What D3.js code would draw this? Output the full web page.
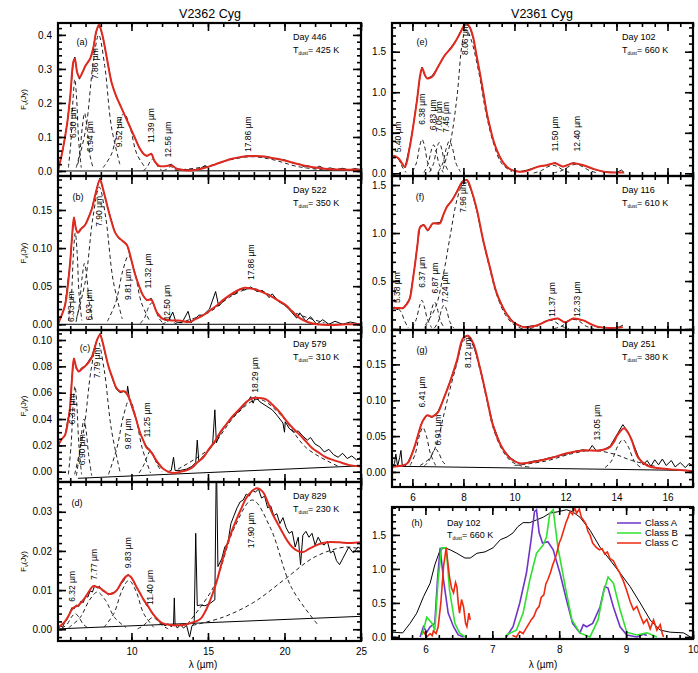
<!DOCTYPE html>
<html><head><meta charset="utf-8">
<script src="https://cdn.jsdelivr.net/npm/d3@7"></script>
<style>
body{margin:0;background:#fff}
text{font-family:"Liberation Sans",Arial,sans-serif;fill:#000}
</style>
</head><body><script>
// ---- data: [wavelength (um), flux (Jy)] ----
const fitA = [[5.2,0],[5.5,0.06],[5.8,0.14],[6.0,0.22],[6.2,0.32],[6.3,0.33],[6.45,0.29],[6.6,0.275],[6.8,0.29],[7.0,0.31],[7.3,0.33],[7.5,0.36],[7.7,0.41],[7.88,0.43],[8.1,0.40],[8.4,0.33],[8.7,0.26],[9.0,0.22],[9.3,0.19],[9.6,0.16],[9.9,0.13],[10.2,0.10],[10.5,0.07],[10.8,0.05],[11.0,0.045],[11.3,0.05],[11.5,0.03],[11.8,0.015],[12.2,0.014],[12.6,0.016],[13.0,0.006],[13.5,0.002],[14.0,0.002],[14.5,0.006],[15.0,0.012],[15.5,0.02],[16.0,0.028],[16.5,0.035],[17.0,0.04],[17.5,0.043],[18.0,0.044],[18.5,0.043],[19.0,0.04],[19.5,0.036],[20.0,0.031],[20.5,0.025],[21.0,0.019],[21.5,0.014],[22.0,0.01],[22.5,0.007],[23.0,0.005],[24.0,0.004],[25.0,0.004]];
const obsA = [[5.2,0.0],[5.5,0.058],[5.8,0.14],[6.0,0.22],[6.2,0.32],[6.3,0.335],[6.45,0.29],[6.6,0.27],[6.8,0.29],[7.0,0.31],[7.3,0.33],[7.5,0.36],[7.7,0.41],[7.88,0.43],[8.1,0.40],[8.4,0.33],[8.7,0.26],[9.0,0.22],[9.3,0.19],[9.6,0.16],[9.9,0.13],[10.2,0.10],[10.5,0.07],[10.8,0.05],[11.0,0.043],[11.3,0.052],[11.5,0.03],[11.8,0.014],[12.2,0.013],[12.6,0.02],[12.8,0.012],[13.0,0.006],[13.5,0.004],[14.0,0.003],[14.5,0.007],[14.8,0.016],[15.0,0.011],[15.5,0.02],[16.0,0.027],[16.5,0.036],[17.0,0.039],[17.5,0.044],[18.0,0.045],[18.5,0.042],[19.0,0.041],[19.5,0.035],[20.0,0.033],[20.5,0.024],[21.0,0.02],[21.3,0.012],[21.5,0.016],[22.0,0.008],[22.3,0.014],[22.6,0.006],[23.0,0.009],[23.4,0.004],[23.8,0.008],[24.2,0.003],[24.6,0.007],[25.0,0.004]];
const compA = [
  [[5.88,0.01],[6.05,0.09],[6.18,0.21],[6.30,0.27],[6.42,0.21],[6.55,0.09],[6.72,0.01]],
  [[6.39,0.01],[6.61,0.05],[6.79,0.13],[6.94,0.17],[7.09,0.13],[7.27,0.05],[7.49,0.01]],
  [[6.49,0.02],[7.04,0.13],[7.48,0.31],[7.86,0.40],[8.25,0.31],[8.69,0.13],[9.24,0.02]],
  [[8.15,0.01],[8.70,0.05],[9.14,0.13],[9.52,0.17],[9.9,0.13],[10.35,0.05],[10.9,0.01]],
  [[10.77,0.001],[11.02,0.011],[11.21,0.027],[11.39,0.035],[11.57,0.027],[11.76,0.011],[12.0,0.001]],
  [[12.06,0.0005],[12.26,0.004],[12.42,0.01],[12.56,0.013],[12.7,0.01],[12.86,0.004],[13.06,0.0005]],
  [[12.86,0.002],[14.86,0.013],[16.46,0.033],[17.86,0.042],[19.26,0.033],[20.86,0.013],[22.86,0.002]]
];
const contA = [[5.2,0.0],[25,0.001]];
const tagsA = [["6.30 µm",6.18,0.097],["6.94 µm",7.29,0.056],["7.86 µm",7.6,0.27],["9.52 µm",9.18,0.07],["11.39 µm",11.27,0.082],["12.56 µm",12.38,0.04],["17.86 µm",17.6,0.056]];

const fitB = [[5.2,0],[5.4,0.01],[5.66,0.025],[5.98,0.078],[6.1,0.11],[6.24,0.14],[6.38,0.125],[6.5,0.12],[6.7,0.125],[6.96,0.13],[7.2,0.14],[7.42,0.152],[7.7,0.175],[7.94,0.19],[8.15,0.177],[8.4,0.157],[8.65,0.138],[8.92,0.121],[9.15,0.114],[9.38,0.11],[9.7,0.104],[9.95,0.088],[10.2,0.068],[10.5,0.05],[10.75,0.038],[11.0,0.032],[11.3,0.032],[11.65,0.016],[12.05,0.007],[12.6,0.005],[13.1,0.005],[13.8,0.003],[14.2,0.007],[14.7,0.012],[15.2,0.019],[15.6,0.025],[16.0,0.032],[16.4,0.038],[16.9,0.044],[17.4,0.048],[17.8,0.047],[18.2,0.045],[18.7,0.041],[19.2,0.036],[19.6,0.031],[20.1,0.025],[20.5,0.017],[21.0,0.008],[21.5,0.003],[22.1,0.0],[23.1,-0.001],[24,0.0],[25,0.0]];
const obsB = [[5.2,0],[5.5,0.015],[5.66,0.025],[5.98,0.078],[6.1,0.11],[6.24,0.14],[6.38,0.124],[6.5,0.12],[6.7,0.126],[6.96,0.13],[7.2,0.141],[7.42,0.152],[7.7,0.176],[7.94,0.192],[8.15,0.176],[8.4,0.157],[8.65,0.139],[8.92,0.121],[9.15,0.113],[9.38,0.11],[9.7,0.105],[9.95,0.087],[10.2,0.068],[10.5,0.05],[10.75,0.038],[11.0,0.031],[11.3,0.034],[11.65,0.016],[12.05,0.007],[12.4,0.004],[12.7,0.016],[12.9,0.003],[13.3,0.002],[13.7,0.017],[13.9,0.002],[14.4,0.012],[14.7,0.012],[15.1,0.02],[15.5,0.043],[15.7,0.024],[16.0,0.03],[16.4,0.038],[16.8,0.04],[17.1,0.047],[17.4,0.045],[17.8,0.049],[18.2,0.043],[18.6,0.044],[19.0,0.035],[19.2,0.04],[19.6,0.03],[20.1,0.024],[20.5,0.015],[20.8,0.008],[21.0,0.015],[21.4,0.004],[21.7,0.01],[22.1,0.0],[22.5,0.006],[22.9,0.0],[23.3,0.004],[23.8,0.0],[24.3,0.003],[25,0.0]];
const compB = [
  [[5.9,0.005],[6.08,0.038],[6.21,0.094],[6.33,0.12],[6.45,0.094],[6.58,0.038],[6.76,0.005]],
  [[6.38,0.003],[6.6,0.026],[6.78,0.062],[6.93,0.08],[7.08,0.062],[7.26,0.026],[7.48,0.003]],
  [[6.4,0.007],[7.0,0.058],[7.48,0.14],[7.90,0.18],[8.32,0.14],[8.8,0.058],[9.4,0.007]],
  [[8.43,0.004],[8.98,0.029],[9.43,0.07],[9.81,0.09],[10.2,0.07],[10.64,0.029],[11.2,0.004]],
  [[10.57,0.001],[10.87,0.009],[11.11,0.022],[11.32,0.028],[11.53,0.022],[11.77,0.009],[12.07,0.001]],
  [[12.0,0],[12.2,0.002],[12.36,0.0047],[12.5,0.006],[12.64,0.0047],[12.8,0.002],[13.0,0]],
  [[13.11,0.002],[15.01,0.015],[16.53,0.037],[17.86,0.047],[19.19,0.037],[20.71,0.015],[22.61,0.002]]
];
const contB = [[5.2,0.0],[25,0.0]];
const tagsB = [["6.33 µm",6.04,0.003],["6.93 µm",7.2,0.005],["7.90 µm",7.85,0.128],["9.81 µm",9.8,0.032],["11.32 µm",11.1,0.047],["12.50 µm",12.3,0.005],["17.86 µm",17.8,0.058]];

const fitC = [[5.2,0.02],[5.4,0.024],[5.66,0.028],[5.85,0.038],[5.98,0.048],[6.1,0.068],[6.24,0.086],[6.4,0.079],[6.57,0.076],[6.75,0.078],[6.96,0.08],[7.2,0.083],[7.42,0.087],[7.6,0.094],[7.75,0.10],[7.95,0.104],[8.1,0.099],[8.27,0.091],[8.5,0.08],[8.8,0.07],[9.0,0.064],[9.25,0.061],[9.57,0.061],[9.8,0.057],[10.0,0.051],[10.3,0.04],[10.55,0.03],[10.8,0.023],[11.0,0.018],[11.2,0.016],[11.4,0.013],[11.6,0.009],[11.86,0.005],[12.1,0.002],[12.4,0.0],[12.8,-0.001],[13.2,0.0],[13.6,0.001],[13.95,0.003],[14.3,0.007],[14.7,0.011],[15.05,0.017],[15.45,0.023],[15.8,0.03],[16.2,0.036],[16.6,0.042],[17.1,0.048],[17.5,0.053],[17.95,0.056],[18.3,0.056],[18.8,0.055],[19.2,0.051],[19.7,0.045],[20.1,0.039],[20.55,0.033],[21.0,0.028],[21.4,0.023],[21.8,0.018],[22.3,0.014],[22.7,0.011],[23.15,0.009],[23.7,0.007],[24.25,0.005],[25,0.004]];
const obsC = [[5.2,0.018],[5.4,0.025],[5.66,0.027],[5.85,0.04],[5.98,0.047],[6.1,0.07],[6.24,0.086],[6.4,0.078],[6.57,0.076],[6.75,0.079],[6.96,0.08],[7.2,0.084],[7.42,0.088],[7.6,0.095],[7.75,0.10],[7.95,0.105],[8.1,0.099],[8.27,0.09],[8.5,0.08],[8.8,0.069],[9.0,0.063],[9.25,0.06],[9.5,0.061],[9.7,0.059],[9.75,0.065],[9.85,0.057],[10.0,0.05],[10.3,0.04],[10.55,0.03],[10.8,0.023],[11.0,0.019],[11.2,0.017],[11.4,0.013],[11.6,0.008],[11.86,0.004],[12.1,0.002],[12.4,0.0],[12.6,0.001],[12.75,0.011],[12.85,0.001],[13.2,0.001],[13.6,0.002],[13.95,0.004],[14.2,0.007],[14.3,0.024],[14.4,0.008],[14.7,0.012],[15.05,0.016],[15.3,0.02],[15.45,0.047],[15.55,0.022],[15.8,0.029],[16.2,0.036],[16.6,0.041],[17.1,0.047],[17.5,0.052],[17.8,0.057],[17.95,0.052],[18.1,0.057],[18.4,0.053],[18.8,0.05],[19.2,0.047],[19.5,0.043],[19.7,0.04],[19.9,0.037],[20.0,0.03],[20.05,0.038],[20.3,0.033],[20.6,0.03],[20.9,0.031],[21.2,0.027],[21.5,0.024],[21.7,0.026],[22.0,0.021],[22.3,0.019],[22.6,0.015],[22.9,0.017],[23.2,0.013],[23.5,0.011],[23.8,0.014],[24.1,0.01],[24.4,0.012],[24.7,0.009],[25,0.011]];
const compC = [
  [[5.88,-0.002],[6.06,0.021],[6.19,0.051],[6.31,0.065],[6.43,0.051],[6.56,0.021],[6.74,-0.002]],
  [[6.4,-0.003],[6.6,0.013],[6.76,0.031],[6.90,0.04],[7.04,0.031],[7.2,0.013],[7.4,-0.003]],
  [[6.29,-0.002],[6.89,0.032],[7.37,0.078],[7.79,0.10],[8.21,0.078],[8.69,0.032],[9.29,-0.002]],
  [[8.5,-0.002],[9.05,0.018],[9.49,0.043],[9.87,0.055],[10.25,0.043],[10.7,0.018],[11.25,-0.001]],
  [[10.5,-0.001],[10.8,0.005],[11.04,0.012],[11.25,0.016],[11.46,0.012],[11.7,0.005],[12.0,0.0]],
  [[13.04,0.002],[15.14,0.018],[16.82,0.043],[18.29,0.055],[19.76,0.043],[21.44,0.018],[23.54,0.004]]
];
const contC = [[6.5,-0.005],[25,0.0045]];
const tagsC = [["6.31 µm",6.1,0.036],["6.90 µm",6.76,0.005],["7.79 µm",7.75,0.071],["9.87 µm",9.77,0.017],["11.25 µm",11.0,0.026],["18.29 µm",18.1,0.06]];

const fitD = [[5.2,0.0003],[5.45,0.0012],[5.66,0.002],[5.9,0.0035],[6.1,0.005],[6.3,0.0057],[6.5,0.006],[6.75,0.007],[6.96,0.008],[7.2,0.0095],[7.5,0.011],[7.75,0.0108],[7.95,0.0105],[8.2,0.0098],[8.5,0.009],[8.8,0.0092],[9.05,0.010],[9.25,0.0113],[9.45,0.0126],[9.65,0.0135],[9.78,0.0138],[9.95,0.0134],[10.1,0.0126],[10.3,0.011],[10.55,0.0093],[10.8,0.0075],[11.1,0.0058],[11.3,0.0045],[11.55,0.0032],[11.8,0.0022],[12.05,0.0015],[12.5,0.0011],[12.95,0.001],[13.4,0.0011],[13.8,0.0015],[14.2,0.002],[14.5,0.0026],[14.75,0.004],[15.0,0.006],[15.3,0.009],[15.6,0.0126],[15.9,0.017],[16.2,0.021],[16.55,0.025],[16.9,0.0284],[17.2,0.031],[17.5,0.0335],[17.85,0.0352],[18.2,0.036],[18.6,0.035],[18.9,0.0325],[19.2,0.0296],[19.55,0.027],[19.9,0.0245],[20.2,0.0225],[20.5,0.021],[20.85,0.0200],[21.2,0.0197],[21.6,0.0205],[22.1,0.0215],[22.5,0.022],[22.95,0.0223],[23.6,0.0222],[24.25,0.022],[25,0.0222]];
const obsD = [[5.2,0.0],[5.35,0.001],[5.5,0.0005],[5.66,0.002],[5.8,0.0025],[5.95,0.004],[6.1,0.0055],[6.25,0.0052],[6.4,0.0062],[6.55,0.0058],[6.7,0.0072],[6.85,0.0068],[7.0,0.0085],[7.15,0.0082],[7.3,0.0098],[7.45,0.0095],[7.6,0.0112],[7.75,0.0105],[7.9,0.011],[8.1,0.0098],[8.3,0.0095],[8.5,0.0088],[8.7,0.0092],[8.9,0.0095],[9.1,0.0102],[9.3,0.0115],[9.5,0.0124],[9.65,0.0135],[9.8,0.014],[9.95,0.0132],[10.1,0.0125],[10.3,0.011],[10.55,0.0092],[10.8,0.0076],[11.0,0.006],[11.2,0.0052],[11.4,0.0038],[11.6,0.003],[11.8,0.002],[12.0,0.0014],[12.2,0.0009],[12.4,0.0014],[12.6,0.0006],[12.75,0.0013],[12.8,0.008],[12.85,0.0012],[13.0,0.0003],[13.2,0.0012],[13.4,0.0003],[13.6,0.001],[13.8,-0.002],[13.95,0.0008],[14.1,0.0015],[14.2,0.0245],[14.3,0.006],[14.5,0.0062],[14.8,0.006],[15.1,0.0065],[15.45,0.0075],[15.55,0.045],[15.65,0.016],[15.9,0.018],[16.1,0.021],[16.3,0.022],[16.5,0.027],[16.7,0.029],[16.9,0.031],[17.1,0.0325],[17.3,0.033],[17.5,0.0345],[17.7,0.034],[17.9,0.0355],[18.1,0.035],[18.3,0.0358],[18.5,0.0335],[18.7,0.034],[18.9,0.031],[19.1,0.0315],[19.3,0.029],[19.5,0.0295],[19.7,0.027],[19.9,0.0285],[20.1,0.026],[20.3,0.0245],[20.5,0.025],[20.7,0.021],[20.9,0.0235],[21.05,0.0165],[21.2,0.024],[21.4,0.025],[21.6,0.0235],[21.8,0.0245],[22.0,0.0215],[22.2,0.0235],[22.4,0.022],[22.6,0.0215],[22.8,0.0225],[23.0,0.0195],[23.2,0.02],[23.4,0.0175],[23.6,0.0165],[23.8,0.018],[24.0,0.0195],[24.2,0.021],[24.5,0.0195],[24.8,0.021],[25,0.0205]];
const compD = [
  [[5.45,0.0002],[5.8,0.0013],[6.08,0.0031],[6.32,0.004],[6.56,0.0031],[6.85,0.0013],[7.2,0.0002]],
  [[5.9,0.0004],[6.65,0.003],[7.25,0.0074],[7.77,0.0095],[8.3,0.0074],[8.9,0.003],[9.65,0.0004]],
  [[8.2,0.0005],[8.85,0.004],[9.37,0.0098],[9.83,0.0125],[10.29,0.0098],[10.8,0.004],[11.45,0.0005]],
  [[10.4,0.0001],[10.8,0.001],[11.12,0.0023],[11.4,0.003],[11.68,0.0023],[12.0,0.001],[12.4,0.0001]],
  [[13.65,0.0013],[15.35,0.0107],[16.71,0.0258],[17.90,0.033],[19.09,0.0258],[20.45,0.0107],[22.15,0.0013]],
  [[14,0.001],[16,0.0031],[18,0.0069],[20,0.0127],[22,0.0185],[24,0.021],[25,0.0204]]
];
const contD = [[5.2,0.0001],[25,0.0033]];
const tagsD = [["6.32 µm",6.1,0.007],["7.77 µm",7.55,0.0126],["9.83 µm",9.77,0.0156],["11.40 µm",11.2,0.0062],["17.90 µm",17.8,0.0207]];

const fitE = [[5.2,0.19],[5.3,0.21],[5.44,0.19],[5.6,0.12],[5.71,0.08],[5.9,0.33],[6.05,0.62],[6.18,0.9],[6.3,1.2],[6.38,1.3],[6.48,1.22],[6.58,1.17],[6.77,1.19],[7.0,1.31],[7.28,1.46],[7.55,1.56],[7.75,1.66],[7.87,1.73],[8.0,1.81],[8.1,1.85],[8.25,1.8],[8.38,1.68],[8.5,1.48],[8.65,1.23],[8.8,0.96],[8.92,0.74],[9.05,0.56],[9.17,0.41],[9.33,0.27],[9.5,0.16],[9.7,0.08],[9.9,0.04],[10.2,0.02],[10.5,0.03],[10.9,0.08],[11.27,0.1],[11.6,0.125],[11.9,0.085],[12.3,0.125],[12.7,0.1],[13.1,0.055],[13.5,0.02],[14.0,0.01],[14.3,0.01]];
const obsE = [[5.2,0.2],[5.3,0.22],[5.44,0.18],[5.6,0.11],[5.71,0.07],[5.9,0.34],[6.05,0.62],[6.18,0.91],[6.3,1.2],[6.38,1.31],[6.48,1.21],[6.58,1.17],[6.77,1.2],[7.0,1.31],[7.28,1.46],[7.55,1.57],[7.75,1.66],[7.87,1.74],[8.0,1.81],[8.1,1.86],[8.25,1.8],[8.38,1.67],[8.5,1.48],[8.65,1.22],[8.8,0.96],[8.92,0.74],[9.05,0.55],[9.17,0.41],[9.33,0.27],[9.5,0.16],[9.7,0.07],[9.9,0.04],[10.2,0.02],[10.5,0.04],[10.9,0.08],[11.27,0.1],[11.6,0.13],[11.9,0.08],[12.3,0.13],[12.7,0.1],[13.1,0.05],[13.5,0.02],[14.0,0.01],[14.2,0.04],[14.3,0.01]];
const compE = [
  [[5.2,0.19],[5.3,0.2],[5.45,0.18],[5.6,0.08],[5.75,0.01]],
  [[6.0,0.02],[6.16,0.13],[6.28,0.33],[6.38,0.42],[6.48,0.33],[6.6,0.13],[6.76,0.02]],
  [[6.45,0.01],[6.61,0.11],[6.73,0.27],[6.83,0.35],[6.93,0.27],[7.05,0.11],[7.21,0.01]],
  [[6.67,0.015],[6.83,0.12],[6.95,0.3],[7.05,0.38],[7.15,0.3],[7.27,0.12],[7.43,0.015]],
  [[7.02,0.02],[7.2,0.13],[7.33,0.31],[7.45,0.4],[7.57,0.31],[7.7,0.13],[7.88,0.02]],
  [[7.2,0.05],[7.5,0.4],[7.75,0.95],[7.95,1.6],[8.1,1.78],[8.3,1.65],[8.6,1.25],[8.9,0.72],[9.2,0.35],[9.5,0.12],[9.9,0.02]],
  [[10.75,0.004],[11.05,0.032],[11.29,0.078],[11.5,0.1],[11.71,0.078],[11.95,0.032],[12.25,0.004]],
  [[11.52,0.004],[11.87,0.035],[12.15,0.086],[12.4,0.11],[12.65,0.086],[12.93,0.035],[13.28,0.004]]
];
const tagsE = [["5.40 µm",5.44,0.26],["6.38 µm",6.38,0.6],["6.83 µm",6.81,0.53],["7.05 µm",7.05,0.51],["7.45 µm",7.32,0.5],["8.06 µm",8.06,1.46],["11.50 µm",11.6,0.27],["12.40 µm",12.46,0.27]];

const fitF = [[5.2,0.22],[5.4,0.22],[5.63,0.22],[5.78,0.26],[5.9,0.32],[6.0,0.48],[6.1,0.67],[6.2,0.88],[6.3,1.06],[6.45,1.08],[6.6,1.03],[6.8,1.1],[7.08,1.1],[7.2,1.18],[7.35,1.27],[7.55,1.34],[7.75,1.43],[7.95,1.53],[8.14,1.55],[8.33,1.43],[8.53,1.24],[8.77,0.93],[9.04,0.64],[9.3,0.38],[9.64,0.18],[9.96,0.07],[10.35,0.02],[10.9,0.04],[11.33,0.09],[11.7,0.11],[11.98,0.07],[12.3,0.11],[12.7,0.09],[13.0,0.05],[13.25,0.025],[13.77,0.01],[14.25,0.02]];
const obsF = [[5.2,0.21],[5.3,0.23],[5.4,0.2],[5.5,0.22],[5.63,0.21],[5.78,0.27],[5.9,0.32],[6.0,0.49],[6.1,0.67],[6.2,0.89],[6.3,1.07],[6.45,1.09],[6.6,1.02],[6.8,1.1],[7.08,1.11],[7.2,1.18],[7.35,1.28],[7.55,1.34],[7.75,1.44],[7.95,1.54],[8.14,1.56],[8.33,1.43],[8.53,1.23],[8.77,0.93],[9.04,0.64],[9.3,0.37],[9.64,0.18],[9.96,0.07],[10.35,0.02],[10.9,0.04],[11.33,0.09],[11.7,0.11],[11.98,0.07],[12.3,0.11],[12.7,0.09],[13.0,0.05],[13.25,0.02],[13.77,0.01],[14.1,0.02],[14.25,0.04]];
const compF = [
  [[5.2,0.21],[5.38,0.22],[5.55,0.18],[5.7,0.08],[5.85,0.01]],
  [[5.99,0.015],[6.15,0.1],[6.27,0.23],[6.37,0.3],[6.47,0.23],[6.59,0.1],[6.75,0.015]],
  [[6.49,0.013],[6.65,0.09],[6.77,0.22],[6.87,0.28],[6.97,0.22],[7.09,0.09],[7.25,0.013]],
  [[6.86,0.01],[7.02,0.08],[7.14,0.2],[7.24,0.25],[7.34,0.2],[7.46,0.08],[7.62,0.01]],
  [[6.5,0.04],[6.9,0.22],[7.2,0.55],[7.5,1.0],[7.75,1.35],[7.96,1.5],[8.14,1.52],[8.33,1.42],[8.53,1.23],[8.77,0.92],[9.04,0.62],[9.3,0.36],[9.64,0.15],[10.0,0.04],[10.35,0.0]],
  [[10.6,0.004],[10.9,0.03],[11.15,0.075],[11.37,0.095],[11.59,0.075],[11.84,0.03],[12.14,0.004]],
  [[11.55,0.004],[11.85,0.03],[12.1,0.078],[12.33,0.1],[12.56,0.078],[12.81,0.03],[13.11,0.004]]
];
const tagsF = [["5.38 µm",5.39,0.27],["6.37 µm",6.38,0.43],["6.87 µm",6.89,0.37],["7.24 µm",7.28,0.27],["7.96 µm",7.98,1.21],["11.37 µm",11.47,0.125],["12.33 µm",12.46,0.125]];

const fitG = [[5.2,0.007],[5.4,0.008],[5.63,0.009],[5.83,0.013],[5.95,0.022],[6.1,0.037],[6.25,0.055],[6.38,0.069],[6.58,0.079],[6.77,0.077],[7.0,0.083],[7.2,0.1],[7.47,0.125],[7.75,0.156],[7.98,0.186],[8.18,0.19],[8.38,0.18],[8.65,0.145],[8.92,0.103],[9.16,0.065],[9.5,0.035],[9.83,0.019],[10.2,0.012],[10.73,0.014],[11.4,0.019],[12.05,0.026],[12.7,0.03],[13.35,0.03],[13.75,0.035],[13.9,0.042],[14.05,0.052],[14.3,0.061],[14.45,0.055],[14.6,0.044],[14.85,0.02],[15.2,0.009],[15.7,0.005],[16.37,0.003],[17,0.001]];
const obsG = [[5.2,0.006],[5.3,0.012],[5.35,0.025],[5.42,0.008],[5.5,0.02],[5.55,0.03],[5.6,0.01],[5.7,0.008],[5.83,0.014],[5.95,0.023],[6.1,0.036],[6.25,0.056],[6.38,0.07],[6.58,0.079],[6.77,0.076],[7.0,0.084],[7.2,0.1],[7.47,0.126],[7.75,0.155],[7.98,0.187],[8.18,0.19],[8.38,0.179],[8.65,0.146],[8.92,0.102],[9.16,0.066],[9.5,0.034],[9.83,0.02],[10.2,0.011],[10.5,0.013],[10.73,0.015],[11.1,0.017],[11.4,0.02],[11.7,0.022],[12.05,0.025],[12.4,0.029],[12.7,0.031],[12.9,0.029],[13.05,0.037],[13.2,0.03],[13.5,0.031],[13.75,0.036],[14.05,0.054],[14.25,0.066],[14.45,0.056],[14.6,0.045],[14.85,0.022],[15.05,0.01],[15.2,0.016],[15.35,0.008],[15.5,0.017],[15.65,0.01],[15.8,0.018],[15.95,0.009],[16.15,0.016],[16.3,0.007],[16.5,0.013],[16.7,0.006],[16.85,0.012],[17,0.008]];
const compG = [
  [[5.91,0.009],[6.11,0.025],[6.27,0.05],[6.41,0.062],[6.55,0.05],[6.71,0.025],[6.91,0.009]],
  [[6.46,0.008],[6.64,0.015],[6.78,0.026],[6.91,0.032],[7.04,0.026],[7.18,0.015],[7.36,0.008]],
  [[6.3,0.009],[6.7,0.02],[7.0,0.045],[7.2,0.075],[7.47,0.115],[7.75,0.152],[7.98,0.182],[8.18,0.186],[8.38,0.176],[8.65,0.142],[8.92,0.1],[9.16,0.062],[9.5,0.032],[9.83,0.016],[10.2,0.009],[10.6,0.007]],
  [[10.0,0.009],[11.2,0.015],[12.2,0.025],[13.05,0.03],[13.9,0.025],[14.6,0.016],[15.5,0.008]],
  [[13.55,0.006],[13.8,0.015],[14.05,0.036],[14.25,0.045],[14.45,0.036],[14.7,0.015],[14.95,0.006]]
];
const contG = [[5.2,0.008],[17,0.002]];
const tagsG = [["6.41 µm",6.38,0.09],["6.91 µm",7.0,0.037],["8.12 µm",8.18,0.145],["13.05 µm",13.24,0.044]];

// panel (h): template spectra of the three classes against the day 102 spectrum
const obsH = [[5.51,0.07],[5.66,0.06],[5.77,0.2],[5.87,0.35],[5.97,0.59],[6.07,0.79],[6.14,1.06],[6.22,1.28],[6.29,1.31],[6.37,1.28],[6.47,1.23],[6.59,1.16],[6.67,1.16],[6.77,1.23],[6.89,1.25],[7.01,1.31],[7.12,1.43],[7.22,1.47],[7.31,1.53],[7.38,1.62],[7.46,1.68],[7.56,1.68],[7.66,1.72],[7.76,1.76],[7.86,1.82],[7.98,1.84],[8.11,1.87],[8.2,1.84],[8.31,1.76],[8.46,1.57],[8.61,1.32],[8.76,1.13],[8.91,0.94],[9.06,0.74],[9.21,0.5],[9.36,0.25],[9.51,0.1],[9.66,0.07],[9.86,0.06],[9.96,0.0]];
const classA = [
  [[5.92,0.0],[5.97,0.15],[6.02,0.07],[6.07,0.15],[6.14,0.2],[6.18,0.84],[6.22,1.31],[6.27,0.84],[6.34,0.35],[6.42,0.15],[6.49,0.03],[6.57,0.0]],
  [[7.21,0.0],[7.31,0.15],[7.41,0.5],[7.51,0.94],[7.58,1.43],[7.63,1.84],[7.66,1.87],[7.7,1.53],[7.75,1.38],[7.83,1.4],[7.91,1.28],[8.01,0.94],[8.11,0.54],[8.2,0.2],[8.31,0.06],[8.36,0.18],[8.41,0.15],[8.5,0.2],[8.61,0.44],[8.68,0.74],[8.73,0.72],[8.81,0.44],[8.91,0.15],[9.01,0.03],[9.16,0.0],[9.26,0.04],[9.31,0.02]]
];
const classB = [
  [[5.95,0.03],[6.02,0.29],[6.1,0.2],[6.14,0.1],[6.19,0.84],[6.24,1.31],[6.31,1.31],[6.36,0.69],[6.44,0.2],[6.51,0.06],[6.59,0.0]],
  [[7.21,0.03],[7.36,0.1],[7.46,0.35],[7.56,0.84],[7.66,1.23],[7.76,1.35],[7.81,1.47],[7.86,1.82],[7.91,1.87],[7.98,1.32],[8.09,0.74],[8.19,0.25],[8.31,0.06],[8.46,0.0],[8.58,0.25],[8.66,0.65],[8.73,0.88],[8.81,0.79],[8.91,0.4],[9.01,0.07],[9.16,0.03],[9.31,0.06],[9.46,0.0]]
];
const classC = [
  [[5.97,0.08],[6.02,0.0],[6.07,0.05],[6.1,0.02],[6.12,0.09],[6.16,0.05],[6.19,0.15],[6.23,0.5],[6.27,1.03],[6.31,1.31],[6.34,1.05],[6.36,0.88],[6.39,0.72],[6.42,0.65],[6.45,0.8],[6.47,0.74],[6.49,0.5],[6.51,0.35],[6.54,0.55],[6.57,0.44],[6.6,0.2],[6.62,0.15],[6.65,0.35],[6.67,0.25]],
  [[7.3,0.02],[7.36,0.0],[7.41,0.08],[7.46,0.05],[7.5,0.12],[7.55,0.2],[7.58,0.25],[7.62,0.3],[7.66,0.4],[7.7,0.45],[7.73,0.58],[7.77,0.62],[7.8,0.78],[7.83,0.84],[7.87,0.95],[7.9,1.05],[7.93,1.13],[7.96,1.22],[8.0,1.38],[8.03,1.45],[8.06,1.55],[8.1,1.68],[8.13,1.75],[8.16,1.84],[8.2,1.8],[8.23,1.9],[8.26,1.82],[8.3,1.88],[8.33,1.76],[8.36,1.72],[8.4,1.66],[8.43,1.55],[8.46,1.5],[8.5,1.38],[8.55,1.32],[8.6,1.28],[8.64,1.3],[8.68,1.22],[8.72,1.25],[8.76,1.15],[8.81,1.12],[8.86,1.02],[8.91,0.93],[8.96,0.82],[9.01,0.68],[9.06,0.52],[9.11,0.4],[9.16,0.45],[9.21,0.32],[9.26,0.2],[9.31,0.26],[9.36,0.12],[9.41,0.25],[9.46,0.1],[9.51,0.18],[9.54,0.05],[9.56,0.0]]
];
const classNames = ["Class A","Class B","Class C"];
const classColors = ["#6f35c8","#2fe02f","#ee2a10"];

const days = ["Day 446","Day 522","Day 579","Day 829","Day 102","Day 116","Day 251","Day 102"];
const temps = ["425 K","350 K","310 K","230 K","660 K","610 K","380 K","660 K"];

// ---- layout ----
const W = 698, H = 673;
const svg = d3.select("body").append("svg").attr("width", W).attr("height", H);

const L = [58, 361], R = [392, 693];
const panels = [
  {id:"a", bx:L, by:[23,176], xd:[5.2,25], yd:[-0.0147,0.435], xs:[5,1], ys:[0.1,0.02], fmt:".1f", fit:fitA, obs:obsA, comps:compA, cont:contA, tags:tagsA, xl:false, lab:[24,22], dx:235},
  {id:"b", bx:L, by:[176,330], xd:[5.2,25], yd:[-0.0075,0.1946], xs:[5,1], ys:[0.05,0.01], fmt:".2f", fit:fitB, obs:obsB, comps:compB, cont:contB, tags:tagsB, xl:false, lab:[20,24], dx:235},
  {id:"c", bx:L, by:[330,482], xd:[5.2,25], yd:[-0.0078,0.1076], xs:[5,1], ys:[0.02,0.005], fmt:".2f", fit:fitC, obs:obsC, comps:compC, cont:contC, tags:tagsC, xl:false, lab:[27,21], dx:235},
  {id:"d", bx:L, by:[482,641], xd:[5.2,25], yd:[-0.003,0.0376], xs:[5,1], ys:[0.01,0.002], fmt:".2f", fit:fitD, obs:obsD, comps:compD, cont:contD, tags:tagsD, xl:true, lab:[19,24], dx:235},
  {id:"e", bx:R, by:[23,176], xd:[5.2,17], yd:[-0.033,1.854], xs:[2,0.5], ys:[0.5,0.1], fmt:".1f", fit:fitE, obs:obsE, comps:compE, cont:null, tags:tagsE, xl:false, lab:[30,22], dx:230},
  {id:"f", bx:R, by:[176,330], xd:[5.2,17], yd:[-0.01,1.594], xs:[2,0.5], ys:[0.5,0.1], fmt:".1f", fit:fitF, obs:obsF, comps:compF, cont:null, tags:tagsF, xl:false, lab:[28,24], dx:230},
  {id:"g", bx:R, by:[330,487], xd:[5.2,17], yd:[-0.021,0.198], xs:[2,0.5], ys:[0.05,0.01], fmt:".2f", fit:fitG, obs:obsG, comps:compG, cont:contG, tags:tagsG, xl:true, lab:[30,23], dx:230}
];

function tickVals(dom, step) {
  const s = Math.ceil(dom[0] / step - 1e-6), e = Math.floor(dom[1] / step + 1e-6);
  return d3.range(s, e + 1).map(i => +(i * step).toFixed(6));
}

function frame(g, x, y, xs, ys, fmt, xl) {
  const [x0, x1] = x.range(), [y1, y0] = y.range();
  const ax = [
    [d3.axisBottom, y1, "x"], [d3.axisTop, y0, "x"],
    [d3.axisLeft, x0, "y"], [d3.axisRight, x1, "y"]
  ];
  ax.forEach(([fn, pos, k]) => {
    const sc = k === "x" ? x : y, st = k === "x" ? xs : ys;
    const tr = k === "x" ? `translate(0,${pos})` : `translate(${pos},0)`;
    [[st[1], -4], [st[0], -8]].forEach(([step, size]) => {
      g.append("g").attr("transform", tr)
        .call(fn(sc).tickValues(tickVals(sc.domain(), step)).tickSize(size).tickFormat(""))
        .call(a => a.select(".domain").remove())
        .call(a => a.selectAll("line").attr("stroke", "#000").attr("stroke-width", 1.6));
    });
  });
  // tick labels
  g.append("g").attr("transform", `translate(${x0},0)`)
    .call(d3.axisLeft(y).tickValues(tickVals(y.domain(), ys[0])).tickSize(0).tickPadding(6).tickFormat(d3.format(fmt)))
    .call(a => a.select(".domain").remove())
    .call(a => a.selectAll("text").attr("font-size", 10).attr("font-family", "Liberation Sans, Arial, sans-serif"));
  if (xl) {
    g.append("g").attr("transform", `translate(0,${y1})`)
      .call(d3.axisBottom(x).tickValues(tickVals(x.domain(), xs[0])).tickSize(0).tickPadding(7).tickFormat(d3.format("d")))
      .call(a => a.select(".domain").remove())
      .call(a => a.selectAll("text").attr("font-size", 10).attr("font-family", "Liberation Sans, Arial, sans-serif"));
  }
  g.append("rect").attr("x", x0).attr("y", y0).attr("width", x1 - x0).attr("height", y1 - y0)
    .attr("fill", "none").attr("stroke", "#000").attr("stroke-width", 2.2);
}

function tempText(g, px, py, t) {
  const tt = g.append("text").attr("x", px).attr("y", py).attr("font-size", 9);
  tt.append("tspan").text("T");
  tt.append("tspan").attr("font-size", 5).attr("dy", 2).text("dust");
  tt.append("tspan").attr("dy", -2).text("= " + t);
}

panels.forEach((p, i) => {
  const x = d3.scaleLinear().domain(p.xd).range(p.bx);
  const y = d3.scaleLinear().domain(p.yd).range([p.by[1], p.by[0]]);
  const g = svg.append("g");
  g.append("clipPath").attr("id", "clip" + p.id).append("rect")
    .attr("x", p.bx[0]).attr("y", p.by[0]).attr("width", p.bx[1] - p.bx[0]).attr("height", p.by[1] - p.by[0]);
  const plot = g.append("g").attr("clip-path", `url(#clip${p.id})`);
  const line = d3.line().x(d => x(d[0])).y(d => y(d[1]));
  const smooth = d3.line().x(d => x(d[0])).y(d => y(d[1])).curve(d3.curveCatmullRom);

  if (p.cont) plot.append("path").attr("d", line(p.cont)).attr("fill", "none").attr("stroke", "#000").attr("stroke-width", 1);
  plot.selectAll(".comp").data(p.comps).join("path").attr("class", "comp")
    .attr("d", smooth).attr("fill", "none").attr("stroke", "#222").attr("stroke-width", 1).attr("stroke-dasharray", "4,3");
  plot.append("path").attr("d", line(p.obs)).attr("fill", "none").attr("stroke", "#000").attr("stroke-width", 1);
  plot.append("path").attr("d", smooth(p.fit)).attr("fill", "none").attr("stroke", "#e02a1f").attr("stroke-width", 2);

  g.selectAll(".tag").data(p.tags).join("text").attr("class", "tag")
    .attr("transform", d => `translate(${x(d[1])},${y(d[2])}) rotate(-90)`)
    .attr("dy", "0.35em").attr("font-size", 8.5).text(d => d[0]);

  frame(g, x, y, p.xs, p.ys, p.fmt, p.xl);

  g.append("text").attr("x", p.bx[0] + p.lab[0]).attr("y", p.by[0] + p.lab[1]).attr("text-anchor", "middle")
    .attr("font-size", 9).text(`(${p.id})`);
  g.append("text").attr("x", p.bx[0] + p.dx).attr("y", p.by[0] + 17).attr("font-size", 9).text(days[i]);
  tempText(g, p.bx[0] + p.dx, p.by[0] + 30, temps[i]);

  if (p.bx === L) {
    const yl = g.append("text").attr("transform", `translate(26,${(p.by[0] + p.by[1]) / 2}) rotate(-90)`)
      .attr("text-anchor", "middle").attr("font-size", 8);
    yl.append("tspan").text("F");
    yl.append("tspan").attr("font-size", 5.5).attr("dy", 2).text("ν");
    yl.append("tspan").attr("dy", -2).text("(Jy)");
  }
});

// ---- panel (h) ----
{
  const by = [507, 639];
  const x = d3.scaleLinear().domain([5.5, 10]).range(R);
  const y = d3.scaleLinear().domain([-0.03, 1.91]).range([by[1], by[0]]);
  const g = svg.append("g");
  g.append("clipPath").attr("id", "cliph").append("rect")
    .attr("x", R[0]).attr("y", by[0]).attr("width", R[1] - R[0]).attr("height", by[1] - by[0]);
  const plot = g.append("g").attr("clip-path", "url(#cliph)");
  const line = d3.line().x(d => x(d[0])).y(d => y(d[1]));
  plot.append("path").attr("d", line(obsH)).attr("fill", "none").attr("stroke", "#000").attr("stroke-width", 1);
  [classA, classB, classC].forEach((segs, k) => {
    segs.forEach(s => plot.append("path").attr("d", line(s)).attr("fill", "none")
      .attr("stroke", classColors[k]).attr("stroke-width", 1.6));
  });
  frame(g, x, y, [1, 0.2], [0.5, 0.1], ".1f", true);
  g.append("text").attr("x", R[0] + 25).attr("y", by[0] + 19).attr("text-anchor", "middle").attr("font-size", 9).text("(h)");
  g.append("text").attr("x", R[0] + 55).attr("y", by[0] + 19).attr("font-size", 9).text(days[7]);
  tempText(g, R[0] + 55, by[0] + 31, temps[7]);
  const lg = g.append("g").selectAll("g").data(classNames).join("g")
    .attr("transform", (d, k) => `translate(617,${by[0] + 16 + k * 10})`);
  lg.append("line").attr("x1", 0).attr("x2", 24).attr("stroke", (d, k) => classColors[k]).attr("stroke-width", 1.5);
  lg.append("text").attr("x", 28).attr("dy", "0.35em").attr("font-size", 9.5).text(d => d);
}

// titles and x labels
svg.append("text").attr("x", 210).attr("y", 18).attr("text-anchor", "middle").attr("font-size", 12.5).text("V2362 Cyg");
svg.append("text").attr("x", 542).attr("y", 18).attr("text-anchor", "middle").attr("font-size", 12.5).text("V2361 Cyg");
[[203, 668], [543, 668]].forEach(([px, py]) => {
  svg.append("text").attr("x", px).attr("y", py).attr("text-anchor", "middle").attr("font-size", 10).text("λ (µm)");
});
</script></body></html>
